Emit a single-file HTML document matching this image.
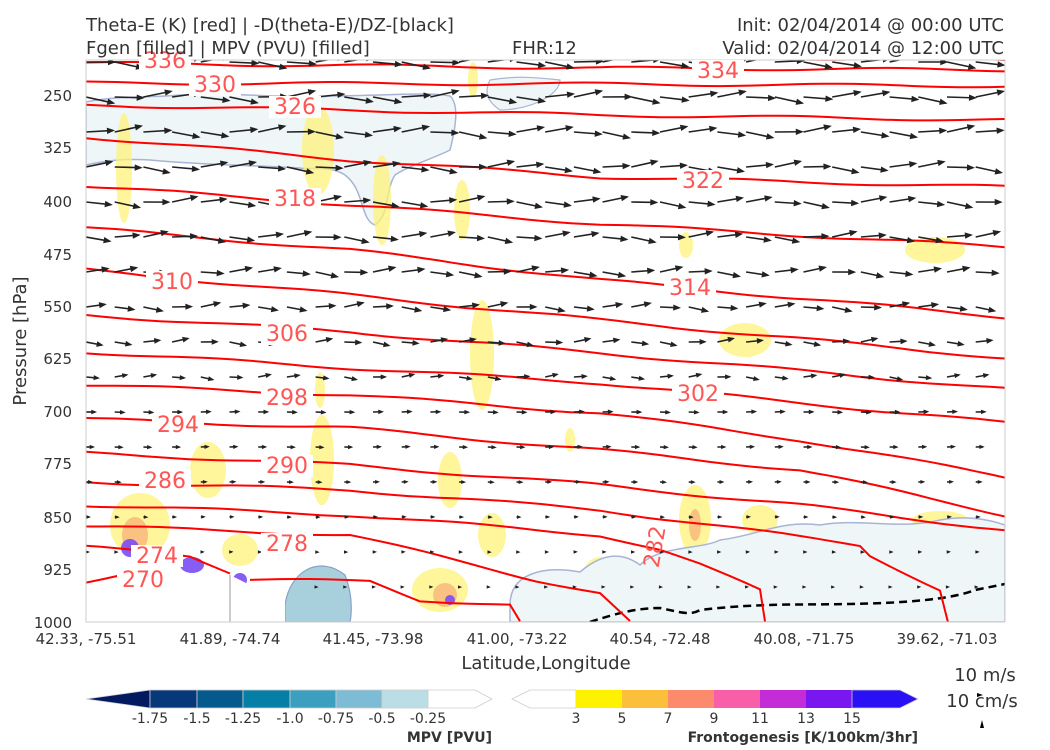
<!DOCTYPE html>
<html><head><meta charset="utf-8">
<style>
body{margin:0;background:#fff;width:1050px;height:750px;overflow:hidden}
svg{position:absolute;left:0;top:0}
text{font-family:"DejaVu Sans","Liberation Sans",sans-serif}
</style></head>
<body>
<svg id="s" width="1050" height="750" xmlns="http://www.w3.org/2000/svg">
<defs><clipPath id="c"><rect x="86" y="60" width="919" height="562"/></clipPath></defs>
<g clip-path="url(#c)">
<path d="M86,102 C120,95 150,98 180,95 C250,92 300,100 330,96 C400,95 430,92 450,96 C460,105 455,130 450,150 C430,160 410,165 395,175 C385,190 390,215 375,225 C360,220 365,190 345,175 C330,165 310,170 300,168 C250,165 200,165 150,160 C120,158 100,162 86,165 Z" fill="#eef6f7" stroke="#a8b4d4" stroke-width="1.5"/>
<path d="M490,80 C520,75 540,78 560,80 C560,95 530,110 500,110 C485,100 485,90 490,80 Z" fill="#eef6f7" stroke="#a8b4d4" stroke-width="1.2"/>
<g fill="#fff27a" opacity="0.75">
<ellipse cx="124" cy="168" rx="8" ry="55"/>
<ellipse cx="318" cy="150" rx="16" ry="45"/>
<ellipse cx="382" cy="200" rx="9" ry="45"/>
<ellipse cx="462" cy="210" rx="8" ry="30"/>
<ellipse cx="473" cy="80" rx="5" ry="18"/>
<ellipse cx="686" cy="245" rx="7" ry="13"/>
<ellipse cx="935" cy="250" rx="30" ry="13"/>
<ellipse cx="745" cy="340" rx="26" ry="17"/>
<ellipse cx="482" cy="355" rx="12" ry="55"/>
<ellipse cx="320" cy="390" rx="5" ry="18"/>
<ellipse cx="208" cy="470" rx="18" ry="28"/>
<ellipse cx="322" cy="460" rx="12" ry="45"/>
<ellipse cx="450" cy="480" rx="12" ry="28"/>
<ellipse cx="492" cy="535" rx="14" ry="22"/>
<ellipse cx="695" cy="520" rx="16" ry="35"/>
<ellipse cx="570" cy="440" rx="5" ry="12"/>
<ellipse cx="940" cy="520" rx="28" ry="9"/>
<ellipse cx="240" cy="550" rx="18" ry="16"/>
<ellipse cx="140" cy="525" rx="30" ry="32"/>
<ellipse cx="440" cy="590" rx="28" ry="22"/>
<ellipse cx="600" cy="585" rx="20" ry="28"/>
<ellipse cx="760" cy="520" rx="18" ry="15"/>
</g>
<g fill="#f7a06e" opacity="0.6"><ellipse cx="135" cy="535" rx="13" ry="18"/><ellipse cx="695" cy="525" rx="6" ry="16"/><ellipse cx="445" cy="595" rx="12" ry="12"/></g>
<g fill="#7a4cf5" opacity="0.9"><ellipse cx="130" cy="548" rx="9" ry="9"/><ellipse cx="192" cy="565" rx="12" ry="8"/><ellipse cx="240" cy="580" rx="7" ry="7"/><ellipse cx="450" cy="600" rx="5" ry="5"/></g>
<path d="M510,605 C510,575 540,565 580,572 C600,555 620,550 640,565 C660,545 700,550 720,540 C760,535 780,520 820,525 C860,518 900,530 940,520 C970,515 990,520 1005,525 L1005,622 L510,622 Z" fill="#eef6f7" stroke="#a8b4d4" stroke-width="1.5"/>
<path d="M285,605 C290,570 320,555 345,575 C355,600 350,622 350,622 L285,622 Z" fill="#a8cfdc" stroke="#8aa0c8" stroke-width="1.2"/>
<path d="M86,598 L230,575 L230,622 L86,622 Z" fill="#fff"/>
<path d="M230,575 L260,590 L285,590 L285,622 L230,622 Z" fill="#fff"/>
<line x1="230" y1="575" x2="230" y2="622" stroke="#ccc" stroke-width="2"/>
<path d="M590,622 C620,612 640,608 660,608 C680,612 690,616 700,610 C760,603 800,605 850,604 C900,603 950,600 975,590 L1005,584" fill="none" stroke="#000" stroke-width="2.5" stroke-dasharray="8,5"/>
<g id="red" fill="none" stroke="#f00" stroke-width="2"></g>
<g id="arr"></g>
</g>
<rect x="86" y="60" width="919" height="562" fill="none" stroke="#ccc" stroke-width="1"/>
<g id="lab" fill="#f55" font-size="22" text-anchor="middle"></g>
<g font-size="15" fill="#333" text-anchor="end">
<text x="72" y="101">250</text><text x="72" y="153">325</text><text x="72" y="207">400</text><text x="72" y="260">475</text><text x="72" y="312">550</text><text x="72" y="364">625</text><text x="72" y="417">700</text><text x="72" y="469">775</text><text x="72" y="523">850</text><text x="72" y="575">925</text><text x="72" y="628">1000</text>
</g>
<text transform="translate(26,341) rotate(-90)" font-size="18" fill="#333" text-anchor="middle">Pressure [hPa]</text>
<g font-size="15" fill="#333" text-anchor="middle">
<text x="86" y="644">42.33, -75.51</text><text x="230" y="644">41.89, -74.74</text><text x="373" y="644">41.45, -73.98</text><text x="517" y="644">41.00, -73.22</text><text x="660" y="644">40.54, -72.48</text><text x="804" y="644">40.08, -71.75</text><text x="947" y="644">39.62, -71.03</text>
</g>
<text x="546" y="669" font-size="18" fill="#333" text-anchor="middle">Latitude,Longitude</text>
<g font-size="18" fill="#333">
<text x="86" y="31">Theta-E (K) [red] | -D(theta-E)/DZ-[black]</text>
<text x="86" y="54">Fgen [filled] | MPV (PVU) [filled]</text>
<text x="512" y="54">FHR:12</text>
<text x="1004" y="31" text-anchor="end">Init: 02/04/2014 @ 00:00 UTC</text>
<text x="1004" y="54" text-anchor="end">Valid: 02/04/2014 @ 12:00 UTC</text>
<text x="985" y="681" text-anchor="middle">10 m/s</text>
<text x="982" y="707" text-anchor="middle">10 cm/s</text>
</g>
<path d="M977,693 l6,2 l-6,2z M982,720 l2,8 l-4,0z" fill="#000"/>
<g stroke="#ccc" stroke-width="0.8">
<path d="M86,699 L150,690 L150,708 Z" fill="#021a60"/>
<rect x="150" y="690" width="47" height="18" fill="#06387a"/>
<rect x="197" y="690" width="46" height="18" fill="#045a8d"/>
<rect x="243" y="690" width="47" height="18" fill="#067fa6"/>
<rect x="290" y="690" width="46" height="18" fill="#3c9fbf"/>
<rect x="336" y="690" width="46" height="18" fill="#7dbcd4"/>
<rect x="382" y="690" width="46" height="18" fill="#bbdde6"/>
<path d="M428,690 L475,690 L492,699 L475,708 L428,708 Z" fill="#fff"/>
<path d="M512,699 L530,690 L576,690 L576,708 L530,708 Z" fill="#fff"/>
<rect x="576" y="690" width="46" height="18" fill="#fff200" stroke="none"/>
<rect x="622" y="690" width="46" height="18" fill="#fbbf3c" stroke="none"/>
<rect x="668" y="690" width="46" height="18" fill="#fb8b6c" stroke="none"/>
<rect x="714" y="690" width="46" height="18" fill="#f95fa8" stroke="none"/>
<rect x="760" y="690" width="46" height="18" fill="#c32cd6" stroke="none"/>
<rect x="806" y="690" width="46" height="18" fill="#7a16f0" stroke="none"/>
<path d="M852,690 L900,690 L918,699 L900,708 L852,708 Z" fill="#2a10f5"/>
</g>
<g font-size="14" fill="#333" text-anchor="middle">
<text x="150" y="723">-1.75</text><text x="197" y="723">-1.5</text><text x="243" y="723">-1.25</text><text x="290" y="723">-1.0</text><text x="336" y="723">-0.75</text><text x="382" y="723">-0.5</text><text x="428" y="723">-0.25</text>
<text x="576" y="723">3</text><text x="622" y="723">5</text><text x="668" y="723">7</text><text x="714" y="723">9</text><text x="760" y="723">11</text><text x="806" y="723">13</text><text x="852" y="723">15</text>
</g>
<g font-size="14" font-weight="bold" fill="#333" text-anchor="end">
<text x="492" y="742">MPV [PVU]</text><text x="918" y="742">Frontogenesis [K/100km/3hr]</text>
</g>
</svg>
<script>
var NS="http://www.w3.org/2000/svg";
function el(t,a,p){var e=document.createElementNS(NS,t);for(var k in a)e.setAttribute(k,a[k]);p.appendChild(e);return e;}
var L=[
[[86,55],[600,56],[1005,60]],
[[86,63],[600,68],[1005,70]],
[[86,83],[600,84],[1005,86]],
[[86,105],[600,115],[1005,120]],
[[86,137],[350,160],[600,177],[1005,187]],
[[86,186],[350,205],[600,224],[1005,247]],
[[86,228],[350,250],[600,280],[1005,317]],
[[86,270],[350,295],[600,320],[1005,358]],
[[86,315],[350,332],[600,353],[1005,389]],
[[86,352],[350,368],[600,383],[1005,423]],
[[86,385],[350,395],[600,413],[800,440],[1005,477]],
[[86,419],[350,428],[600,450],[800,470],[1005,515]],
[[86,453],[350,465],[600,485],[800,505],[1005,530]],
[[86,482],[350,490],[600,510],[860,545],[870,555],[940,590],[948,622]],
[[86,505],[350,515],[600,535],[660,550],[700,565],[760,590],[765,622]],
[[86,526],[350,535],[536,580],[600,593],[630,622]],
[[86,547],[190,556],[230,572]],[[250,580],[370,581],[420,600],[510,605],[520,622]],
[[86,582],[120,574]]
];
var g=document.getElementById("red");
L.forEach(function(pts,i){var d="";for(var j=0;j<pts.length-1;j++){var a=pts[j],b=pts[j+1];var n=Math.max(1,Math.round((b[0]-a[0])/15));for(var k=(j==0?0:1);k<=n;k++){var t=k/n;var x=a[0]+(b[0]-a[0])*t,y=a[1]+(b[1]-a[1])*t+1.5*Math.sin(x/40+i*1.3);d+=(d?"L":"M")+x.toFixed(1)+","+y.toFixed(1);}}el("path",{d:d},g);});
var labs=[[330,215,92],[334,718,78],[326,295,114],[322,703,188],[318,295,206],[314,690,295],[310,172,289],[306,287,341],[302,698,401],[298,287,405],[294,178,432],[290,287,473],[286,165,488],[278,287,551],[274,157,563],[270,143,587],[336,165,68]];
var lg=document.getElementById("lab");
labs.forEach(function(a){el("rect",{x:a[1]-26,y:a[2]-18,width:52,height:22,fill:"#fff"},lg);var t=el("text",{x:a[1],y:a[2]},lg);t.textContent=a[0];});
var t2=el("text",{x:0,y:0,transform:"translate(662,548) rotate(-80)"},lg);t2.textContent="282";
var ag=document.getElementById("arr");
var lens=[30,30,29,28,27,26,24,21,18,14,11,9,7,5,4,3];
for(var r=0;r<16;r++){var y=62+r*35;var len=lens[r];
 for(var c=0;c<32;c++){var x=86+c*28.7;var ang=(r<10?Math.sin(r*1.7+c*1.3)*0.22:0.05*Math.sin(c));
  if(y>570&&x<290)continue;
  var dx=len*Math.cos(ang),dy=len*Math.sin(ang);var x2=x+dx,y2=y+dy;
  el("line",{x1:x,y1:y,x2:x2-dx/len*2,y2:y2-dy/len*2,stroke:"#222","stroke-width":1.6},ag);
  var h=Math.min(8,3.5+len*0.2),ux=dx/len,uy=dy/len;
  el("path",{d:"M"+x2+","+y2+"L"+(x2-ux*h-uy*h*0.4)+","+(y2-uy*h+ux*h*0.4)+"L"+(x2-ux*h+uy*h*0.4)+","+(y2-uy*h-ux*h*0.4)+"Z",fill:"#222"},ag);
 }}
</script>
</body></html>
